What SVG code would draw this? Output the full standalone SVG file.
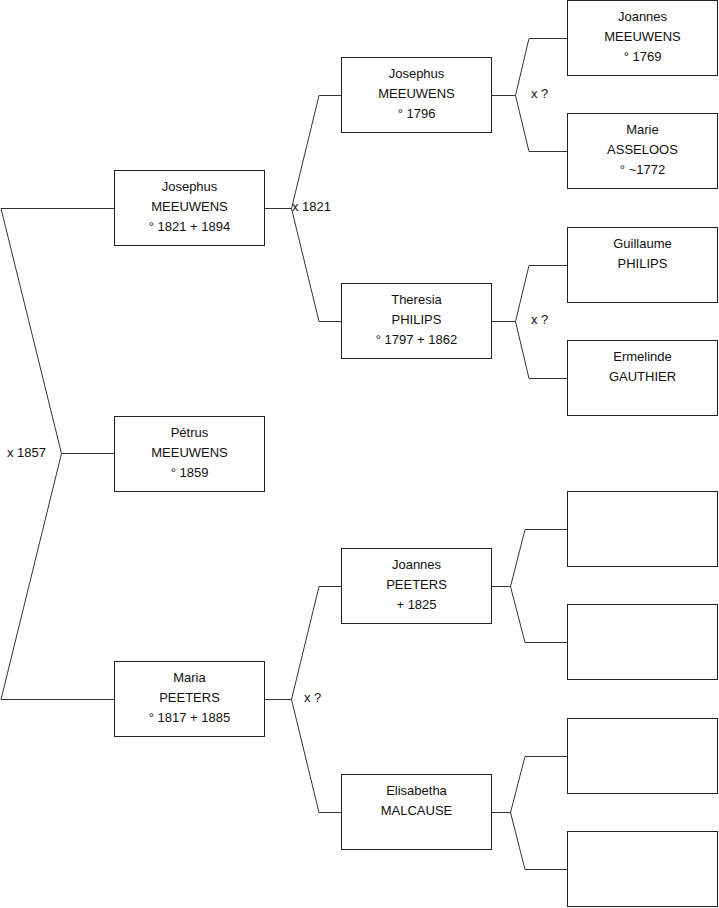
<svg xmlns="http://www.w3.org/2000/svg" width="719" height="908" viewBox="0 0 719 908">
<style>
.box{fill:#fff;stroke:#222;stroke-width:1}
.t{font-family:"Liberation Sans",Arial,sans-serif;font-size:13px;fill:#111;text-anchor:middle}
.l{font-family:"Liberation Sans",Arial,sans-serif;font-size:13px;fill:#111}
.c{fill:none;stroke:#333;stroke-width:1}
</style>
<rect width="719" height="908" fill="#fff"/>
<g id="connectors">
<polyline class="c" points="114,208.5 1,208.5 61.5,453.5 1,699.5 114,699.5"/>
<polyline class="c" points="61.5,453.5 114,453.5"/>
<polyline class="c" points="265,208.5 291.5,208.5"/>
<polyline class="c" points="341,95.5 319,95.5 291.5,208.5 319,321.5 341,321.5"/>
<polyline class="c" points="492,95.5 515.5,95.5"/>
<polyline class="c" points="567,38.5 529,38.5 515.5,95.5 529,151.5 567,151.5"/>
<polyline class="c" points="492,321.5 515.5,321.5"/>
<polyline class="c" points="567,265.5 529,265.5 515.5,321.5 529,378.5 567,378.5"/>
<polyline class="c" points="265,699.5 291.5,699.5"/>
<polyline class="c" points="341,586.5 319,586.5 291.5,699.5 319,812.5 341,812.5"/>
<polyline class="c" points="492,586.5 510.5,586.5"/>
<polyline class="c" points="567,529.5 525,529.5 510.5,586.5 525,642.5 567,642.5"/>
<polyline class="c" points="492,812.5 510.5,812.5"/>
<polyline class="c" points="567,756.5 525,756.5 510.5,812.5 525,869.5 567,869.5"/>
<text class="l" x="7" y="457">x 1857</text>
<text class="l" x="292" y="211">x 1821</text>
<text class="l" x="531" y="98">x ?</text>
<text class="l" x="531" y="324">x ?</text>
<text class="l" x="304" y="702">x ?</text>
</g>
<g id="josephus1821">
<rect class="box" x="114.5" y="170.5" width="150" height="75"/>
<text class="t" x="189.5" y="191">Josephus</text>
<text class="t" x="189.5" y="211">MEEUWENS</text>
<text class="t" x="189.5" y="231">° 1821 + 1894</text>
</g>
<g id="petrus">
<rect class="box" x="114.5" y="416.5" width="150" height="75"/>
<text class="t" x="189.5" y="437">Pétrus</text>
<text class="t" x="189.5" y="457">MEEUWENS</text>
<text class="t" x="189.5" y="477">° 1859</text>
</g>
<g id="maria">
<rect class="box" x="114.5" y="661.5" width="150" height="75"/>
<text class="t" x="189.5" y="682">Maria</text>
<text class="t" x="189.5" y="702">PEETERS</text>
<text class="t" x="189.5" y="722">° 1817 + 1885</text>
</g>
<g id="josephus1796">
<rect class="box" x="341.5" y="57.5" width="150" height="75"/>
<text class="t" x="416.5" y="78">Josephus</text>
<text class="t" x="416.5" y="98">MEEUWENS</text>
<text class="t" x="416.5" y="118">° 1796</text>
</g>
<g id="theresia">
<rect class="box" x="341.5" y="283.5" width="150" height="75"/>
<text class="t" x="416.5" y="304">Theresia</text>
<text class="t" x="416.5" y="324">PHILIPS</text>
<text class="t" x="416.5" y="344">° 1797 + 1862</text>
</g>
<g id="joannesPeeters">
<rect class="box" x="341.5" y="548.5" width="150" height="75"/>
<text class="t" x="416.5" y="569">Joannes</text>
<text class="t" x="416.5" y="589">PEETERS</text>
<text class="t" x="416.5" y="609">+ 1825</text>
</g>
<g id="elisabetha">
<rect class="box" x="341.5" y="774.5" width="150" height="75"/>
<text class="t" x="416.5" y="795">Elisabetha</text>
<text class="t" x="416.5" y="815">MALCAUSE</text>
</g>
<g id="joannesMeeuwens">
<rect class="box" x="567.5" y="0.5" width="150" height="75"/>
<text class="t" x="642.5" y="21">Joannes</text>
<text class="t" x="642.5" y="41">MEEUWENS</text>
<text class="t" x="642.5" y="61">° 1769</text>
</g>
<g id="marie">
<rect class="box" x="567.5" y="113.5" width="150" height="75"/>
<text class="t" x="642.5" y="134">Marie</text>
<text class="t" x="642.5" y="154">ASSELOOS</text>
<text class="t" x="642.5" y="174">° ~1772</text>
</g>
<g id="guillaume">
<rect class="box" x="567.5" y="227.5" width="150" height="75"/>
<text class="t" x="642.5" y="248">Guillaume</text>
<text class="t" x="642.5" y="268">PHILIPS</text>
</g>
<g id="ermelinde">
<rect class="box" x="567.5" y="340.5" width="150" height="75"/>
<text class="t" x="642.5" y="361">Ermelinde</text>
<text class="t" x="642.5" y="381">GAUTHIER</text>
</g>
<g id="empty1"><rect class="box" x="567.5" y="491.5" width="150" height="75"/></g>
<g id="empty2"><rect class="box" x="567.5" y="604.5" width="150" height="75"/></g>
<g id="empty3"><rect class="box" x="567.5" y="718.5" width="150" height="75"/></g>
<g id="empty4"><rect class="box" x="567.5" y="831.5" width="150" height="75"/></g>
</svg>
